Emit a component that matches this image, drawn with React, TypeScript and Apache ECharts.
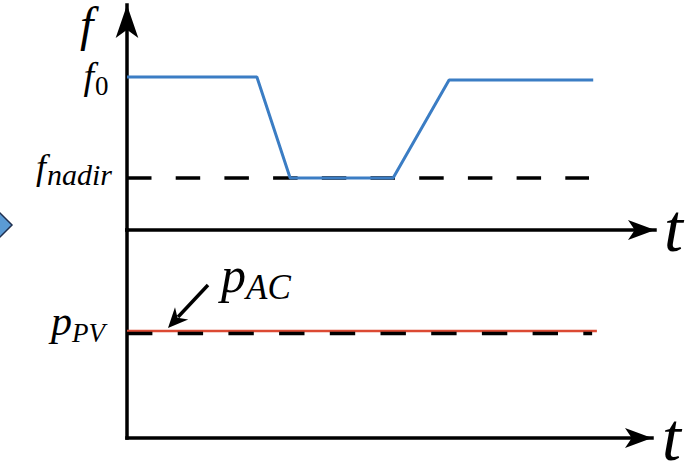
import React, { useEffect, useRef } from "react";
import * as echarts from "echarts";

// frequency trace (top panel)
const fTime = [0, 24.6, 30.9, 50.4, 61.0, 88.3];
const fValue = [68.0, 68.0, 23.1, 23.1, 66.7, 66.7];
const FNADIR = 23.1;
const nadirTime = [0, 87.5];
const nadirValue = [FNADIR, FNADIR];
// power traces (bottom panel)
const P_PV = 50.2;
const pacTime = [0, 89.5];
const pacValue = [51.4, 51.4];
const ppvTime = [0, 88.6];
const ppvValue = [P_PV, P_PV];

const zip = (a: number[], b: number[]) => a.map((x, i) => [x, b[i]]);

// text helper: baseline-positioned graphic text
const txt = (text: string, x: number, baseline: number, size: number, italic = true) => ({
  type: "text",
  x,
  y: baseline - 0.85 * size,
  z: 100,
  style: {
    text,
    fontFamily: "Liberation Serif",
    fontStyle: italic ? "italic" : "normal",
    fontSize: size,
    fill: "#000",
  },
});

export default function App() {
  const ref = useRef<HTMLDivElement>(null);
  useEffect(() => {
    if (!ref.current) return;
    const chart = echarts.init(ref.current, null, { renderer: "svg" });
    const axisStroke = { color: "#000", width: 3.5, cap: "square" as const };
    const bare = {
      type: "value",
      min: 0,
      max: 100,
      axisTick: { show: false },
      axisLabel: { show: false },
      splitLine: { show: false },
    };
    chart.setOption({
      animation: false,
      textStyle: { fontFamily: "Liberation Serif" },
      grid: [
        { left: 127, top: 5, width: 528, height: 225 },
        { left: 127, top: 230, width: 525, height: 208 },
      ],
      xAxis: [
        {
          ...bare,
          gridIndex: 0,
          axisLine: { show: true, symbol: ["none", "arrow"], symbolSize: [15, 27], lineStyle: axisStroke },
        },
        {
          ...bare,
          gridIndex: 1,
          axisLine: { show: true, symbol: ["none", "arrow"], symbolSize: [15, 27], lineStyle: axisStroke },
        },
      ],
      yAxis: [
        {
          ...bare,
          gridIndex: 0,
          axisLine: { show: true, symbol: ["none", "arrow"], symbolSize: [17, 33], lineStyle: axisStroke },
        },
        {
          ...bare,
          gridIndex: 1,
          axisLine: { show: true, lineStyle: axisStroke },
        },
      ],
      series: [
        {
          type: "line",
          xAxisIndex: 0,
          yAxisIndex: 0,
          data: zip(nadirTime, nadirValue),
          symbol: "none",
          lineStyle: { color: "#000", width: 3.5, type: [24.5, 24.2] },
          z: 2,
        },
        {
          type: "line",
          xAxisIndex: 0,
          yAxisIndex: 0,
          data: zip(fTime, fValue),
          symbol: "none",
          lineStyle: { color: "#3b7dc4", width: 3 },
          z: 3,
        },
        {
          type: "line",
          xAxisIndex: 1,
          yAxisIndex: 1,
          data: zip(pacTime, pacValue),
          symbol: "none",
          lineStyle: { color: "#dc4a33", width: 2.5 },
          z: 2,
        },
        {
          type: "line",
          xAxisIndex: 1,
          yAxisIndex: 1,
          data: zip(ppvTime, ppvValue),
          symbol: "none",
          lineStyle: { color: "#000", width: 3.5, type: [25.4, 25.3] },
          z: 3,
        },
      ],
    } as any);
    chart.setOption({
      graphic: [
        {
          type: "polygon",
          shape: { points: [[-12, 225], [0, 213], [12, 225], [0, 237]] },
          style: { fill: "#5b9bd5", stroke: "#1f2f4f", lineWidth: 1.5 },
        },
        {
          type: "line",
          shape: { x1: 208, y1: 285, x2: 178, y2: 317 },
          style: { stroke: "#000", lineWidth: 3.5 },
        },
        {
          type: "polygon",
          shape: { points: [[168, 328], [188.2, 319.5], [177.5, 317.8], [175, 307.3]] },
          style: { fill: "#000" },
        },
        // axis names
        txt("f", 80, 41.5, 48),
        txt("t", 664, 252, 68),
        txt("t", 662, 461, 68),
        // tick labels
        txt("f", 83.5, 89, 38),
        txt("0", 95, 95, 27, false),
        txt("f", 36, 180, 36),
        txt("nadir", 47, 185, 30),
        txt("p", 51, 336, 42),
        txt("PV", 72, 342, 27),
        // annotation
        txt("p", 221, 292, 50),
        txt("AC", 246, 300, 35),
      ],
    } as any);
    return () => chart.dispose();
  }, []);
  return (
    <div
      ref={ref}
      style={{ position: "fixed", left: 0, top: 0, width: 689, height: 463, background: "#fff" }}
    />
  );
}
